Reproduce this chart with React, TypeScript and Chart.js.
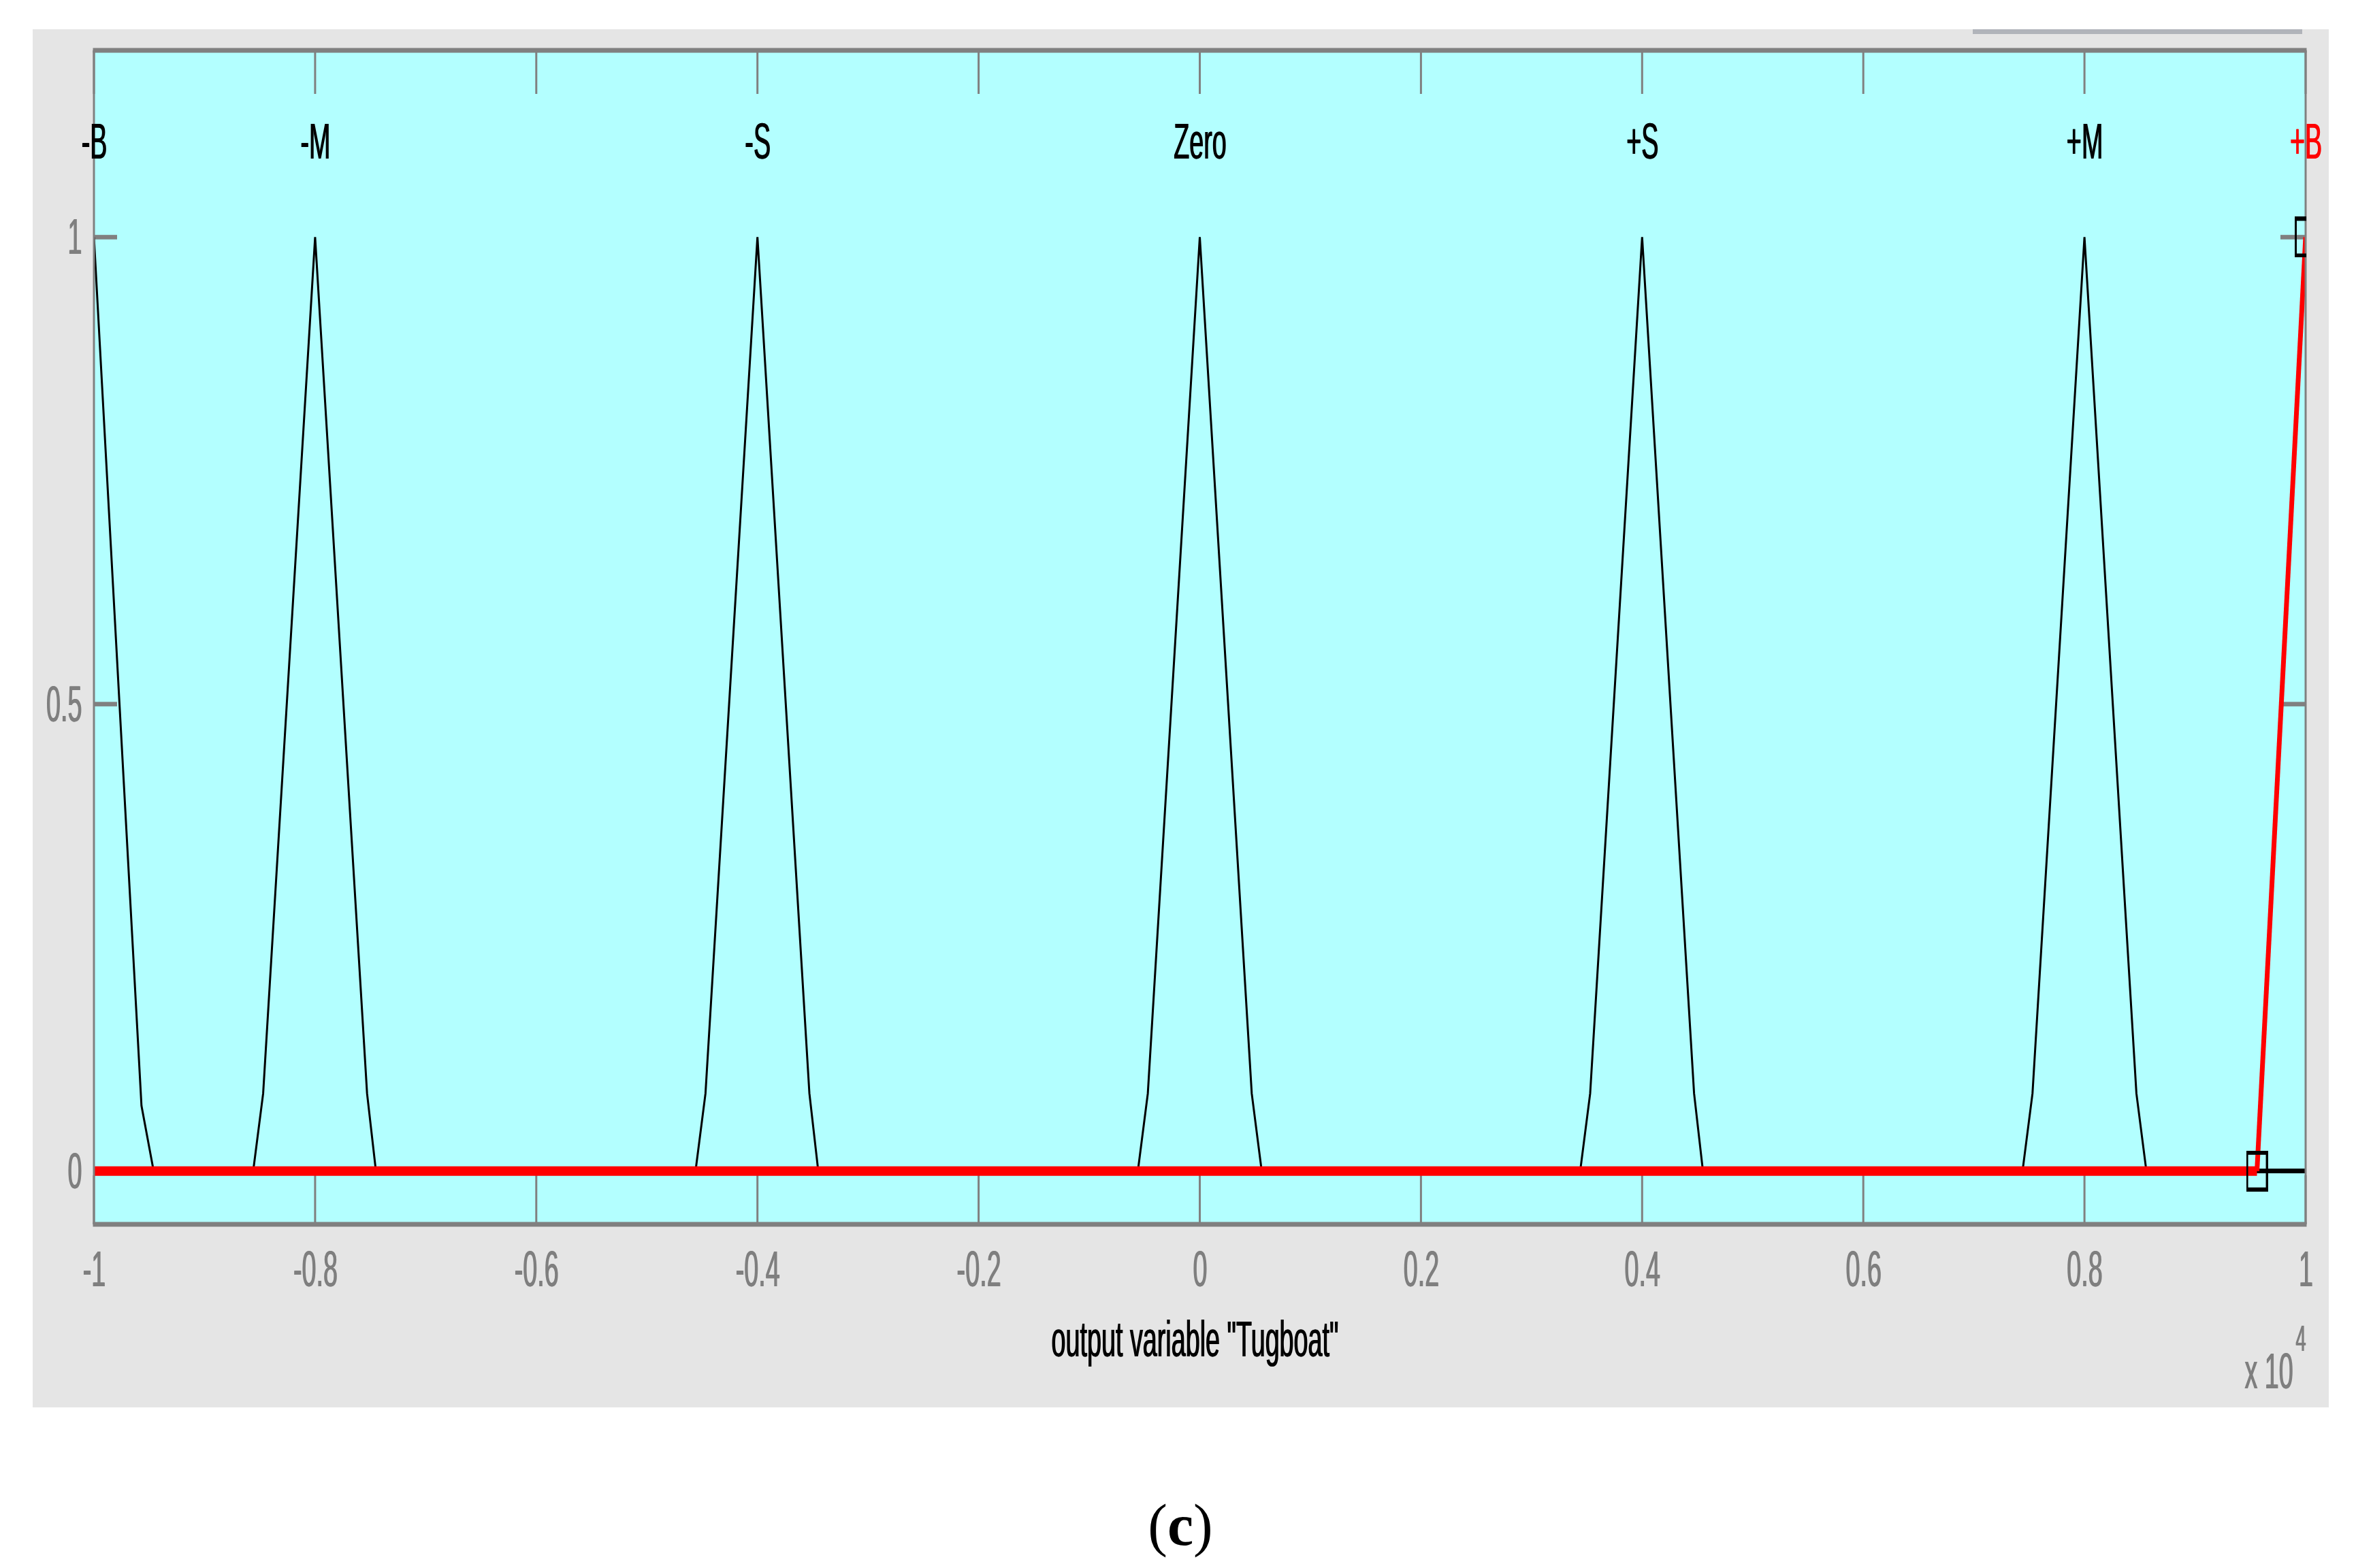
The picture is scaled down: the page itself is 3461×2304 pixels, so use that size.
import React, { useEffect, useRef } from "react";
import { Chart, registerables } from "chart.js";

Chart.register(...registerables);

// ---- data ----
const X_TICKS = [-1, -0.8, -0.6, -0.4, -0.2, 0, 0.2, 0.4, 0.6, 0.8, 1];
const X_TICK_LABELS = ["-1", "-0.8", "-0.6", "-0.4", "-0.2", "0", "0.2", "0.4", "0.6", "0.8", "1"];
const Y_TICKS = [0, 0.5, 1];
const Y_TICK_LABELS = ["0", "0.5", "1"];

const MF_NAMES = ["-B", "-M", "-S", "Zero", "+S", "+M", "+B"];
const MF_PEAKS = [-1, -0.8, -0.4, 0, 0.4, 0.8, 1];

const MF_NEG_B_X = [-1, -0.957, -0.946, 1];
const MF_NEG_B_Y = [1, 0.07, 0, 0];
const MF_NEG_M_X = [-1, -0.856, -0.847, -0.8, -0.753, -0.745, 1];
const MF_NEG_M_Y = [0, 0, 0.083, 1, 0.083, 0, 0];
const MF_NEG_S_X = [-1, -0.456, -0.447, -0.4, -0.353, -0.345, 1];
const MF_NEG_S_Y = [0, 0, 0.083, 1, 0.083, 0, 0];
const MF_ZERO_X = [-1, -0.056, -0.047, 0, 0.047, 0.056, 1];
const MF_ZERO_Y = [0, 0, 0.083, 1, 0.083, 0, 0];
const MF_POS_S_X = [-1, 0.344, 0.353, 0.4, 0.447, 0.455, 1];
const MF_POS_S_Y = [0, 0, 0.083, 1, 0.083, 0, 0];
const MF_POS_M_X = [-1, 0.744, 0.753, 0.8, 0.847, 0.856, 1];
const MF_POS_M_Y = [0, 0, 0.083, 1, 0.083, 0, 0];
const MF_POS_B_X = [-1, 0.956, 1];
const MF_POS_B_Y = [0, 0, 1];
const HANDLE_X = [0.956, 1];
const HANDLE_Y = [0, 1];

const AXIS_TITLE = 'output variable "Tugboat"';
const CAPTION_LETTER = "c";

// ---- layout / style ----
const W = 3461;
const H = 2304;
const FONT = '"Liberation Sans", Arial, sans-serif';
const SERIF = '"Liberation Serif", "Times New Roman", serif';
const SX = 0.51; // horizontal squeeze of the screenshot text

const mk = (xs: number[], ys: number[]) => xs.map((x, i) => ({ x, y: ys[i] }));

function drawText(
  ctx: CanvasRenderingContext2D,
  s: string,
  x: number,
  y: number,
  size: number,
  color: string,
  align: "left" | "center" | "right",
  sx = SX,
  family = FONT,
  weight = "normal",
  thicken = true
) {
  ctx.save();
  ctx.font = `${weight} ${size}px ${family}`;
  ctx.fillStyle = color;
  ctx.textBaseline = "alphabetic";
  ctx.textAlign = "left";
  const w = ctx.measureText(s).width * sx;
  const left = align === "center" ? x - w / 2 : align === "right" ? x - w : x;
  ctx.translate(left, y);
  ctx.scale(sx, 1);
  ctx.fillText(s, 0, 0);
  if (thicken) ctx.fillText(s, 1 / sx, 0);
  ctx.restore();
}

const framePlugin = {
  id: "matlabFrame",
  beforeDraw(chart: any) {
    const ctx = chart.ctx as CanvasRenderingContext2D;
    const a = chart.chartArea;
    ctx.save();
    ctx.fillStyle = "#ffffff";
    ctx.fillRect(0, 0, W, H);
    ctx.fillStyle = "#e5e5e5";
    ctx.fillRect(48, 43, 3421 - 48, 2068 - 43);
    ctx.fillStyle = "#b1b4ba";
    ctx.fillRect(2898, 43, 484, 7);
    ctx.fillStyle = "#b3ffff";
    ctx.fillRect(a.left, a.top, a.right - a.left, a.bottom - a.top);
    ctx.restore();
  },
  beforeDatasetsDraw(chart: any) {
    const ctx = chart.ctx as CanvasRenderingContext2D;
    const a = chart.chartArea;
    const xs = chart.scales.x;
    const ys = chart.scales.y;
    ctx.save();
    ctx.fillStyle = "#808080";
    X_TICKS.forEach((v) => {
      const px = xs.getPixelForValue(v);
      ctx.fillRect(px - 1.5, a.top, 3, 64);
      ctx.fillRect(px - 1.5, a.bottom - 72, 3, 72);
    });
    Y_TICKS.forEach((v) => {
      const py = ys.getPixelForValue(v);
      ctx.fillRect(a.left, py - 3.3, 34, 6.6);
      ctx.fillRect(a.right - 37, py - 3.3, 37, 6.6);
    });
    ctx.restore();
  },
  afterDatasetDraw(chart: any, args: any) {
    if (args.index !== 1) return;
    const ctx = chart.ctx as CanvasRenderingContext2D;
    const a = chart.chartArea;
    ctx.save();
    ctx.fillStyle = "#808080";
    ctx.fillRect(a.left - 1.5, a.top - 3.5, a.right - a.left + 3, 7);
    ctx.fillRect(a.left - 1.5, a.bottom - 3.5, a.right - a.left + 3, 7);
    ctx.fillRect(a.left - 1.5, a.top, 3, a.bottom - a.top);
    ctx.fillRect(a.right - 1.5, a.top, 3, a.bottom - a.top);
    ctx.restore();
  },
  afterDraw(chart: any) {
    const ctx = chart.ctx as CanvasRenderingContext2D;
    const xs = chart.scales.x;
    const ys = chart.scales.y;
    const gray = "#7f7f7f";
    // MF names
    MF_NAMES.forEach((name, i) => {
      const px = xs.getPixelForValue(MF_PEAKS[i]);
      drawText(ctx, name, px, 233, 74, i === MF_NAMES.length - 1 ? "#ff0000" : "#000000", "center");
    });
    // x tick labels
    X_TICKS.forEach((v, i) => {
      drawText(ctx, X_TICK_LABELS[i], xs.getPixelForValue(v), 1890, 74, gray, "center");
    });
    // y tick labels
    Y_TICKS.forEach((v, i) => {
      drawText(ctx, Y_TICK_LABELS[i], 120, ys.getPixelForValue(v) + 25, 74, gray, "right");
    });
    // axis title
    drawText(ctx, AXIS_TITLE, 1755, 1993, 74, "#000000", "center");
    // exponent
    drawText(ctx, "x 10", 3297, 2040, 74, gray, "left");
    drawText(ctx, "4", 3372, 1985, 53, gray, "left");
    // caption (c)
    ctx.save();
    ctx.font = `normal 86px ${SERIF}`;
    const wp = ctx.measureText("(").width;
    const wp2 = ctx.measureText(")").width;
    ctx.font = `bold 86px ${SERIF}`;
    const wc = ctx.measureText(CAPTION_LETTER).width;
    ctx.restore();
    const total = wp + wc + wp2;
    let cx = 1734 - total / 2;
    drawText(ctx, "(", cx, 2270, 86, "#000000", "left", 1, SERIF, "normal", false);
    cx += wp;
    drawText(ctx, CAPTION_LETTER, cx, 2270, 86, "#000000", "left", 1, SERIF, "bold", false);
    cx += wc;
    drawText(ctx, ")", cx, 2270, 86, "#000000", "left", 1, SERIF, "normal", false);
  },
};

export default function App() {
  const ref = useRef<HTMLCanvasElement>(null);

  useEffect(() => {
    const canvas = ref.current;
    if (!canvas) return;

    const handleImg = document.createElement("canvas");
    handleImg.width = 32;
    handleImg.height = 60;
    const hc = handleImg.getContext("2d")!;
    hc.fillStyle = "#000000";
    hc.fillRect(0, 0, 32, 60);
    hc.clearRect(3, 6, 26, 48);

    const blackSeg = {
      borderWidth: (c: any) => (c.p0.parsed.y === c.p1.parsed.y ? 6 : 3),
    };
    const redSeg = {
      borderWidth: (c: any) => (c.p0.parsed.y === c.p1.parsed.y ? 14 : 7),
    };
    const black = (label: string, xs: number[], ys: number[]) => ({
      label,
      data: mk(xs, ys),
      showLine: true,
      borderColor: "#000000",
      backgroundColor: "#000000",
      borderWidth: 3,
      pointRadius: 0,
      tension: 0,
      fill: false,
      segment: blackSeg,
    });

    const chart = new Chart(canvas, {
      type: "scatter",
      data: {
        datasets: [
          {
            label: "handles",
            data: mk(HANDLE_X, HANDLE_Y),
            showLine: false,
            pointStyle: handleImg as any,
            pointRadius: 5,
            clip: { left: 0, top: 0, right: 1, bottom: 0 } as any,
          },
          {
            label: MF_NAMES[6],
            data: mk(MF_POS_B_X, MF_POS_B_Y),
            showLine: true,
            borderColor: "#ff0000",
            backgroundColor: "#ff0000",
            borderWidth: 7,
            pointRadius: 0,
            tension: 0,
            fill: false,
            segment: redSeg,
            clip: { left: 0, top: 0, right: 0, bottom: 0 } as any,
          },
          black(MF_NAMES[0], MF_NEG_B_X, MF_NEG_B_Y),
          black(MF_NAMES[1], MF_NEG_M_X, MF_NEG_M_Y),
          black(MF_NAMES[2], MF_NEG_S_X, MF_NEG_S_Y),
          black(MF_NAMES[3], MF_ZERO_X, MF_ZERO_Y),
          black(MF_NAMES[4], MF_POS_S_X, MF_POS_S_Y),
          black(MF_NAMES[5], MF_POS_M_X, MF_POS_M_Y),
        ] as any,
      },
      options: {
        responsive: false,
        animation: false,
        devicePixelRatio: 1,
        events: [],
        layout: { padding: { left: 138, top: 74, right: 74, bottom: 505 } },
        plugins: {
          legend: { display: false },
          tooltip: { enabled: false },
        },
        scales: {
          x: { type: "linear", min: -1, max: 1, display: false },
          y: { type: "linear", min: -0.057, max: 1.2, display: false },
        },
      },
      plugins: [framePlugin],
    });

    return () => chart.destroy();
  }, []);

  return (
    <div style={{ position: "absolute", left: 0, top: 0, width: W, height: H, background: "#ffffff" }}>
      <canvas ref={ref} width={W} height={H} style={{ display: "block", width: W, height: H }} />
    </div>
  );
}
